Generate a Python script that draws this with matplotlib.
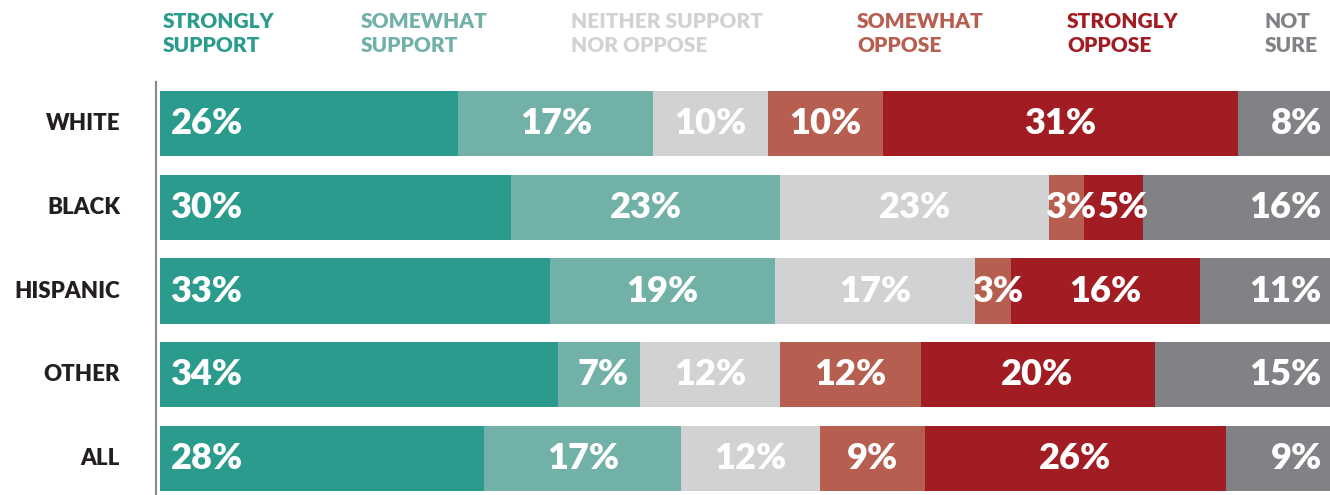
import numpy as np
import matplotlib.pyplot as plt

groups = ["WHITE", "BLACK", "HISPANIC", "OTHER", "ALL"]
responses = ["STRONGLY\nSUPPORT", "SOMEWHAT\nSUPPORT", "NEITHER SUPPORT\nNOR OPPOSE",
             "SOMEWHAT\nOPPOSE", "STRONGLY\nOPPOSE", "NOT\nSURE"]

strongly_support = [26, 30, 33, 34, 28]
somewhat_support = [17, 23, 19, 7, 17]
neither = [10, 23, 17, 12, 12]
somewhat_oppose = [10, 3, 3, 12, 9]
strongly_oppose = [31, 5, 16, 20, 26]
not_sure = [8, 16, 11, 15, 9]

colors = ["#2a9b8c", "#72b1a7", "#d1d2d4", "#b65e4f", "#a11c23", "#818285"]
header_x = [163, 361, 571, 857, 1067, 1265]

FONT = "Lato"

W, H = 1330, 495
fig = plt.figure(figsize=(W / 100, H / 100), dpi=100)
ax = fig.add_axes([160 / W, (H - 500) / H, 1170 / W, 418 / H])

series = np.array([strongly_support, somewhat_support, neither,
                   somewhat_oppose, strongly_oppose, not_sure], dtype=float)
totals = series.sum(axis=0)
y = np.arange(len(groups))

left = np.zeros(len(groups))
prev_width = np.full(len(groups), 100.0)
for i, vals in enumerate(series):
    width = vals / totals * 100
    ax.barh(y, width, left=left, height=0.78, color=colors[i], linewidth=0)
    for j in range(len(groups)):
        label = f"{int(vals[j])}%"
        if i == 0:
            x, ha = left[j] + 0.9, "left"
        elif i == len(series) - 1:
            x, ha = left[j] + width[j] - 0.7, "right"
        else:
            x, ha = left[j] + width[j] / 2, "center"
            # push labels of thin segments apart a little
            if width[j] < 8:
                x += 0.35
                if prev_width[j] < 8:
                    x += 0.5
        ax.text(x, y[j], label, ha=ha, va="center", color="white",
                fontsize=26, fontweight="heavy", family=FONT)
    left += width
    prev_width = width

ax.set_xlim(0, 100)
ax.set_ylim(4.5, -0.5)
ax.set_xticks([])
ax.set_yticks([])
for side in ["top", "right", "bottom"]:
    ax.spines[side].set_visible(False)
ax.spines["left"].set_position(("outward", 3))
ax.spines["left"].set_color("#8c8c8c")
ax.spines["left"].set_linewidth(1.6)

# group names to the left of the axis line
trans = ax.get_yaxis_transform()
for j, g in enumerate(groups):
    ax.text(-40 / 1170, y[j], g, transform=trans, ha="right", va="center",
            color="#231f20", fontsize=16, fontweight="heavy", family=FONT)

# response headers above the bars
for text, c, hx in zip(responses, colors, header_x):
    fig.text(hx / W, 1 - 12 / H, text, ha="left", va="top", color=c,
             fontsize=15, fontweight="heavy", family=FONT, linespacing=1.3)

fig.savefig("out.png", dpi=100)
